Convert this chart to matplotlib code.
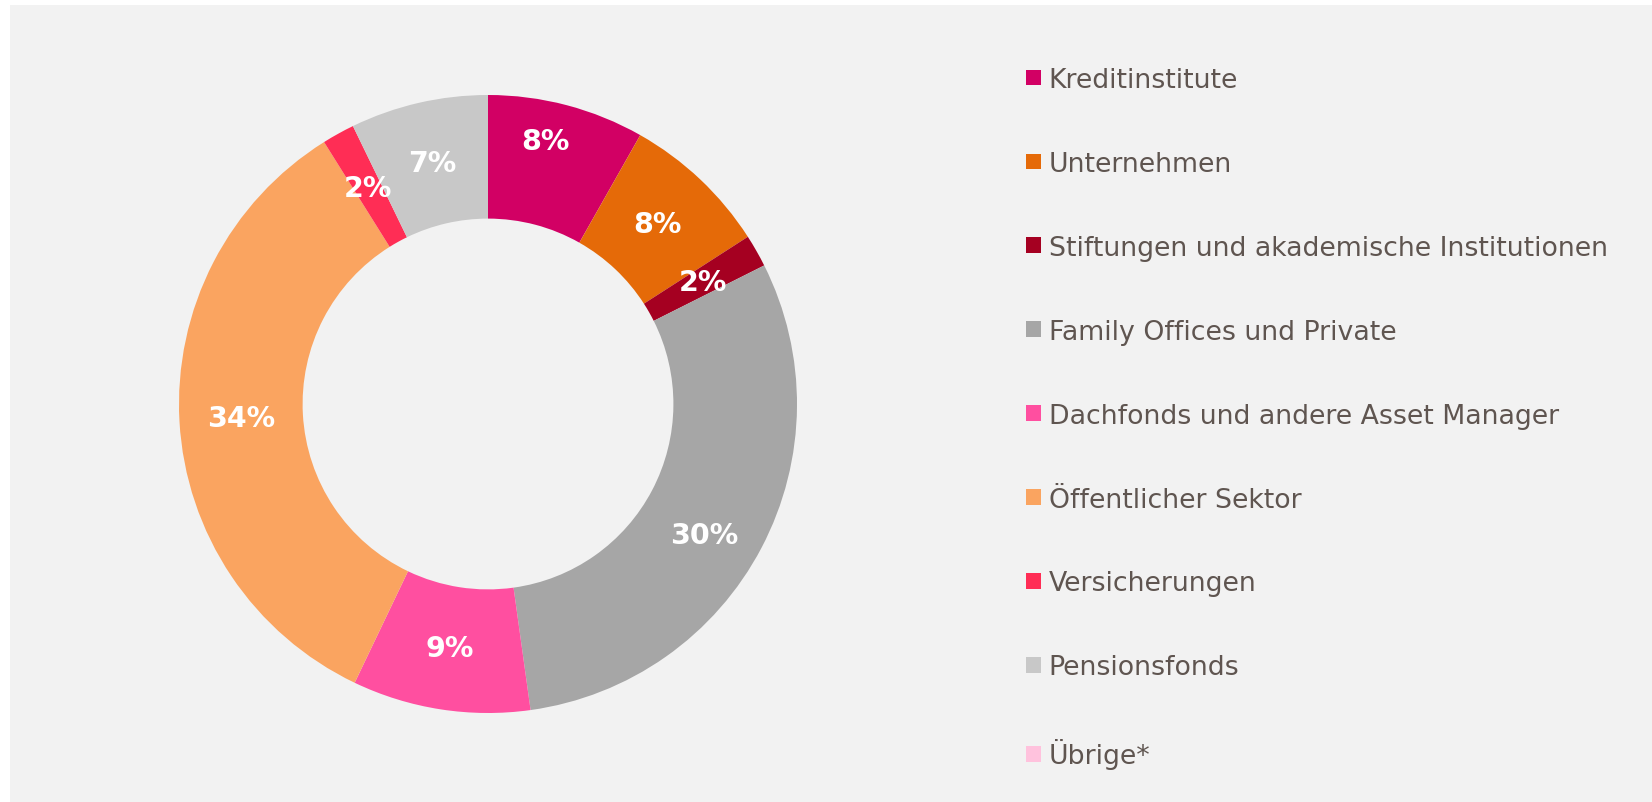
import matplotlib
matplotlib.use("Agg")
import matplotlib.pyplot as plt
from matplotlib.patches import Rectangle

categories = ["Kreditinstitute", "Unternehmen", "Stiftungen und akademische Institutionen",
              "Family Offices und Private", "Dachfonds und andere Asset Manager",
              "Öffentlicher Sektor", "Versicherungen", "Pensionsfonds", "Übrige*"]
values = [8.2, 7.7, 1.7, 30.2, 9.3, 34.0, 1.7, 7.2, 0.0]
colors = ["#D20064", "#E56A08", "#A50021", "#A6A6A6", "#FF4FA0",
          "#FAA460", "#FF2D55", "#C8C8C8", "#FFC2DD"]

W, H = 1652, 803
fig = plt.figure(figsize=(W / 100, H / 100), dpi=100)
fig.patch.set_facecolor("white")
fig.add_artist(Rectangle((10 / W, 0), 1 - 10 / W, (H - 6) / H, transform=fig.transFigure,
                         facecolor="#F2F2F2", edgecolor="none", zorder=0))

cx, cy, r = 488, 405, 309
ax = fig.add_axes([(cx - r) / W, (H - cy - r) / H, 2 * r / W, 2 * r / H])
ax.set_facecolor("none")

def fmt(p):
    return f"{p:.0f}%" if p >= 0.5 else ""

wedges, texts, autotexts = ax.pie(values, colors=colors, startangle=90, counterclock=False,
                                  autopct=fmt, pctdistance=0.8, radius=1,
                                  wedgeprops=dict(width=0.4, linewidth=0),
                                  textprops=dict(color="white", fontsize=20.5, fontweight="bold"))
# small label nudges (layout only)
nudges = {0: (-0.017, 0.078), 3: (-0.01, -0.051)}
for i, (ddx, ddy) in nudges.items():
    x, y = autotexts[i].get_position()
    autotexts[i].set_position((x + ddx, y + ddy))

ax.set_xlim(-1, 1)
ax.set_ylim(-1, 1)
ax.set_aspect("equal")
ax.axis("off")

leg = fig.legend(wedges, categories, loc="upper left",
                 bbox_to_anchor=(1026 / W, 1 - 68 / H), frameon=False,
                 fontsize=19.3, handlelength=0.57, handleheight=0.53, handletextpad=0.27,
                 labelspacing=2.16, borderpad=0, borderaxespad=0)
for t in leg.get_texts():
    t.set_color("#5F5550")

fig.savefig("out.png", dpi=100, facecolor=fig.get_facecolor())
